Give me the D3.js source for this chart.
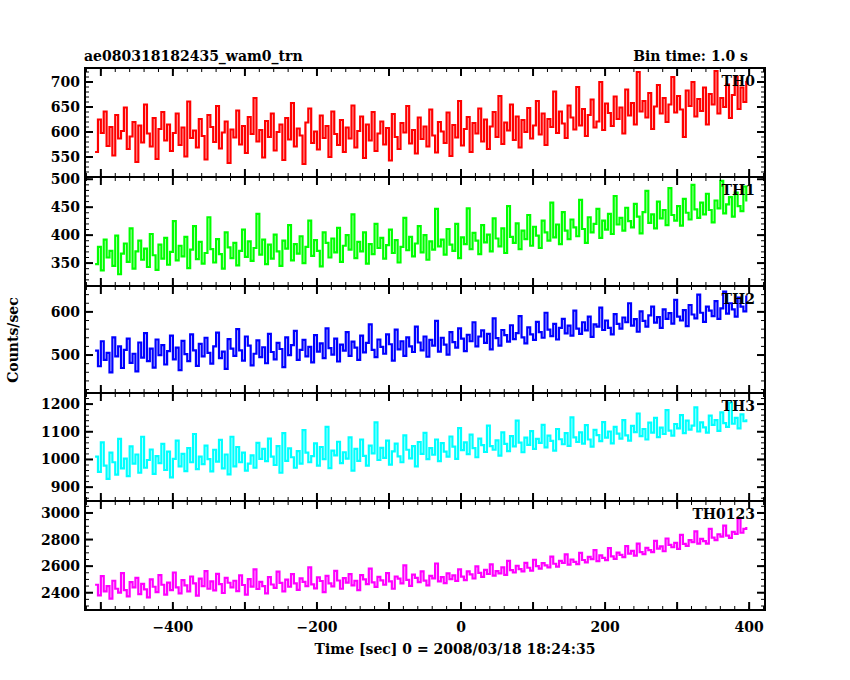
<!DOCTYPE html>
<html><head><meta charset="utf-8">
<script src="https://cdn.jsdelivr.net/npm/d3@7"></script>
<style>body{margin:0;background:#fff}text{font-family:"DejaVu Serif",serif;font-weight:bold;font-size:14px}</style>
</head><body><svg id="c" width="850" height="680"></svg>
<script>
const tStart=-508, tStep=4;
const TH0=[560,625,598,641,572,610,553,634,587,602,649,566,591,620,540,613,579,655,597,571,628,546,606,640,583,615,562,598,637,574,
609,551,661,588,603,569,626,592,545,634,610,580,652,567,599,621,538,605,589,643,575,612,558,630,596,668,581,604,549,622,
590,637,563,600,615,544,628,585,658,571,607,593,536,619,647,578,601,565,633,588,612,550,641,596,574,624,560,609,587,653,
569,602,631,548,615,583,640,562,597,621,575,608,543,636,590,566,618,599,652,577,604,557,629,586,611,571,645,593,559,620,
601,578,639,552,614,589,662,573,606,630,560,618,597,647,581,625,566,611,640,590,672,576,619,603,655,584,631,569,624,600,
648,587,613,662,595,637,574,626,610,681,598,641,617,588,653,629,605,690,613,646,592,634,665,609,621,700,604,657,638,612,
671,626,649,597,685,633,658,615,720,641,662,629,678,606,651,694,637,668,620,655,710,639,672,645,590,683,652,700,631,666,
642,689,615,676,655,722,637,668,650,695,628,674,711,646,689,660,702];
const TH1=[348,379,337,392,360,372,345,399,330,367,385,352,412,340,371,390,356,376,343,402,364,338,383,358,395,347,370,425,355,381,
362,397,341,374,416,357,388,349,368,432,375,351,393,366,340,405,378,359,386,346,372,410,361,389,354,377,438,365,392,348,
383,358,401,371,345,390,376,418,355,384,367,398,350,379,426,363,391,372,344,405,386,360,394,369,413,352,381,400,374,437,
359,388,371,405,349,384,366,420,377,395,358,382,410,368,391,351,379,431,373,397,362,385,416,369,400,356,389,374,447,380,
392,365,411,383,372,420,359,396,384,448,375,404,390,366,418,387,401,371,430,394,380,412,368,452,397,386,421,375,408,393,
436,381,415,399,377,426,405,390,458,396,419,384,441,408,393,428,414,398,463,411,386,432,405,420,447,395,426,410,438,402,
470,419,431,408,449,425,414,456,433,403,441,479,422,437,412,460,430,445,418,484,436,426,452,417,465,440,428,490,446,431,
458,437,474,445,423,462,448,497,439,455,468,433,476,452,443,487,460];
const TH2=[510,474,532,489,505,460,541,497,520,470,512,538,482,503,462,529,494,551,486,515,471,536,500,523,478,509,545,490,517,465,
533,502,486,548,511,475,526,497,540,505,480,520,552,493,508,468,537,515,498,560,511,487,543,522,476,503,534,495,518,481,
549,507,490,528,514,472,541,500,523,556,489,512,535,497,519,483,546,508,527,493,562,516,501,538,485,524,510,553,498,531,
517,489,545,506,528,571,512,495,536,519,503,548,525,487,559,513,532,498,541,520,507,566,529,511,543,496,535,522,579,508,
540,524,501,553,530,517,562,538,509,547,532,576,520,543,557,528,549,513,585,539,522,558,546,531,569,537,551,590,541,527,
564,548,535,577,553,540,598,559,544,572,536,563,584,550,568,545,603,561,549,576,557,589,542,571,566,610,558,580,563,548,
595,572,561,587,576,620,568,583,554,601,579,566,592,612,575,588,563,606,584,597,573,628,589,580,604,567,616,594,585,640,
598,577,612,603,590,625,584,608,647,596,620,606,589,633,612,601,638];
const TH3=[1010,955,1062,978,930,1025,990,945,1074,968,1003,940,1047,985,1018,952,1082,970,998,1036,948,1012,987,1056,962,1028,935,1002,1068,975,
1020,958,1041,990,1092,965,1010,983,1050,1001,957,1035,992,1071,968,1018,946,1082,975,1045,990,1025,960,985,1015,970,1060,1002,1038,994,
1075,1010,980,1048,952,1095,995,1040,1008,970,1030,985,1106,1025,990,1012,1058,978,1045,1001,1118,969,1032,1015,1064,987,1026,1003,1080,960,
1038,995,1072,1013,978,1050,1022,1134,998,1042,1006,1068,981,1029,1057,1011,990,1087,1035,1004,1048,975,1063,1020,1096,1001,1041,1017,1072,994,
1059,1028,1010,1083,1046,1002,1113,1034,1062,1019,1090,1041,1008,1075,1052,1027,1122,1048,1035,1069,1014,1098,1056,1030,1084,1047,1140,1061,1026,1079,
1053,1102,1038,1074,1060,1125,1044,1086,1067,1032,1110,1073,1055,1095,1049,1152,1080,1063,1098,1057,1124,1072,1046,1107,1088,1066,1135,1079,1101,1058,
1118,1093,1075,1142,1087,1068,1121,1099,1166,1084,1110,1072,1133,1097,1150,1081,1115,1092,1178,1104,1086,1128,1112,1160,1095,1140,1108,1122,1188,1101,
1134,1116,1097,1158,1125,1142,1103,1170,1131,1118,1205,1129,1150,1112,1163,1138,1145];
const TH0123=[2460,2380,2525,2410,2450,2355,2490,2430,2400,2548,2420,2372,2480,2440,2512,2390,2466,2425,2365,2500,2445,2405,2532,2460,2385,2476,2420,2552,2440,2395,
2495,2455,2410,2522,2470,2378,2506,2450,2562,2430,2485,2418,2542,2465,2398,2512,2475,2440,2490,2412,2530,2458,2385,2503,2446,2575,2428,2481,2450,2395,
2517,2462,2436,2558,2474,2410,2498,2445,2540,2470,2421,2508,2482,2450,2590,2463,2432,2515,2488,2405,2526,2471,2448,2565,2492,2430,2510,2476,2540,2455,
2490,2420,2533,2501,2465,2582,2478,2444,2519,2493,2460,2548,2485,2430,2522,2506,2470,2605,2496,2451,2536,2512,2480,2560,2491,2455,2527,2508,2620,2486,
2518,2472,2546,2503,2530,2489,2575,2521,2495,2560,2538,2507,2598,2550,2519,2572,2541,2613,2528,2563,2546,2590,2534,2640,2570,2552,2603,2578,2561,2625,
2588,2566,2648,2600,2581,2622,2605,2590,2672,2618,2597,2640,2625,2688,2611,2650,2632,2615,2700,2646,2628,2670,2652,2720,2638,2681,2662,2645,2735,2673,
2655,2702,2684,2668,2750,2694,2715,2679,2770,2706,2690,2738,2720,2705,2790,2731,2748,2712,2808,2760,2742,2775,2730,2835,2768,2752,2795,2780,2862,2770,
2805,2788,2770,2880,2815,2796,2840,2822,2905,2830,2812,2858,2842,2960,2851,2880,2895];
const names=["TH0","TH1","TH2","TH3","TH0123"];
const colors=["#ff0000","#00ff00","#0000ff","#00ffff","#ff00ff"];
const domains=[[510,728],[309,504],[412,660],[850,1240],[2270,3090]];
const yTicks=[[550,600,650,700],[350,400,450,500],[500,600],[900,1000,1100,1200],[2400,2600,2800,3000]];
const yMinor=[10,10,20,20,50];
const xTicks=[-400,-200,0,200,400];
const series=[TH0,TH1,TH2,TH3,TH0123];

const svg=d3.select("#c");
const L=85,R=765,tops=[68,177,286,393,501,610];
const x=d3.scaleLinear().domain([-522,422]).range([L,R]);
series.forEach((s,k)=>{
  const y0=tops[k],y1=tops[k+1];
  const y=d3.scaleLinear().domain(domains[k]).range([y1,y0]);
  const g=svg.append("g");
  const cid="cl"+k;
  g.append("clipPath").attr("id",cid).append("rect").attr("x",L).attr("y",y0).attr("width",R-L).attr("height",y1-y0);
  const data=s.map((v,i)=>[tStart+i*tStep,v]);
  g.append("path").datum(data).attr("clip-path",`url(#${cid})`)
   .attr("d",d3.line().x(d=>x(d[0])).y(d=>y(d[1])).curve(d3.curveStepAfter))
   .attr("fill","none").attr("stroke",colors[k]).attr("stroke-width",2.2);
  g.append("rect").attr("x",L).attr("y",y0).attr("width",R-L).attr("height",y1-y0).attr("fill","none").attr("stroke","#000").attr("stroke-width",2);
  const xmaj=d3.range(-500,401,100), xmin=d3.range(-520,421,20);
  xmin.forEach(t=>{g.append("line").attr("x1",x(t)).attr("x2",x(t)).attr("y1",y0).attr("y2",y0+4).attr("stroke","#000");
    g.append("line").attr("x1",x(t)).attr("x2",x(t)).attr("y1",y1).attr("y2",y1-4).attr("stroke","#000");});
  xmaj.forEach(t=>{g.append("line").attr("x1",x(t)).attr("x2",x(t)).attr("y1",y0).attr("y2",y0+8).attr("stroke","#000").attr("stroke-width",2);
    g.append("line").attr("x1",x(t)).attr("x2",x(t)).attr("y1",y1).attr("y2",y1-8).attr("stroke","#000").attr("stroke-width",2);});
  const [a,b]=domains[k];
  d3.range(Math.ceil(a/yMinor[k])*yMinor[k],b,yMinor[k]).forEach(v=>{
    g.append("line").attr("x1",L).attr("x2",L+4).attr("y1",y(v)).attr("y2",y(v)).attr("stroke","#000");
    g.append("line").attr("x1",R).attr("x2",R-4).attr("y1",y(v)).attr("y2",y(v)).attr("stroke","#000");});
  yTicks[k].forEach(v=>{
    g.append("line").attr("x1",L).attr("x2",L+8).attr("y1",y(v)).attr("y2",y(v)).attr("stroke","#000").attr("stroke-width",2);
    g.append("line").attr("x1",R).attr("x2",R-8).attr("y1",y(v)).attr("y2",y(v)).attr("stroke","#000").attr("stroke-width",2);
    g.append("text").attr("x",L-5).attr("y",y(v)+5).attr("text-anchor","end").text(v);});
  g.append("text").attr("x",R-10).attr("y",y0+18).attr("text-anchor","end").text(names[k]);
});
xTicks.forEach(t=>svg.append("text").attr("x",x(t)).attr("y",632).attr("text-anchor","middle").text(t<0?"\u2212"+(-t):t));
svg.append("text").attr("x",455).attr("y",654).attr("text-anchor","middle").text("Time [sec] 0 = 2008/03/18 18:24:35");
svg.append("text").attr("x",84).attr("y",61).text("ae080318182435_wam0_trn");
svg.append("text").attr("x",748).attr("y",61).attr("text-anchor","end").text("Bin time: 1.0 s");
svg.append("text").attr("transform","translate(18,340) rotate(-90)").attr("text-anchor","middle").text("Counts/sec");
</script></body></html>
